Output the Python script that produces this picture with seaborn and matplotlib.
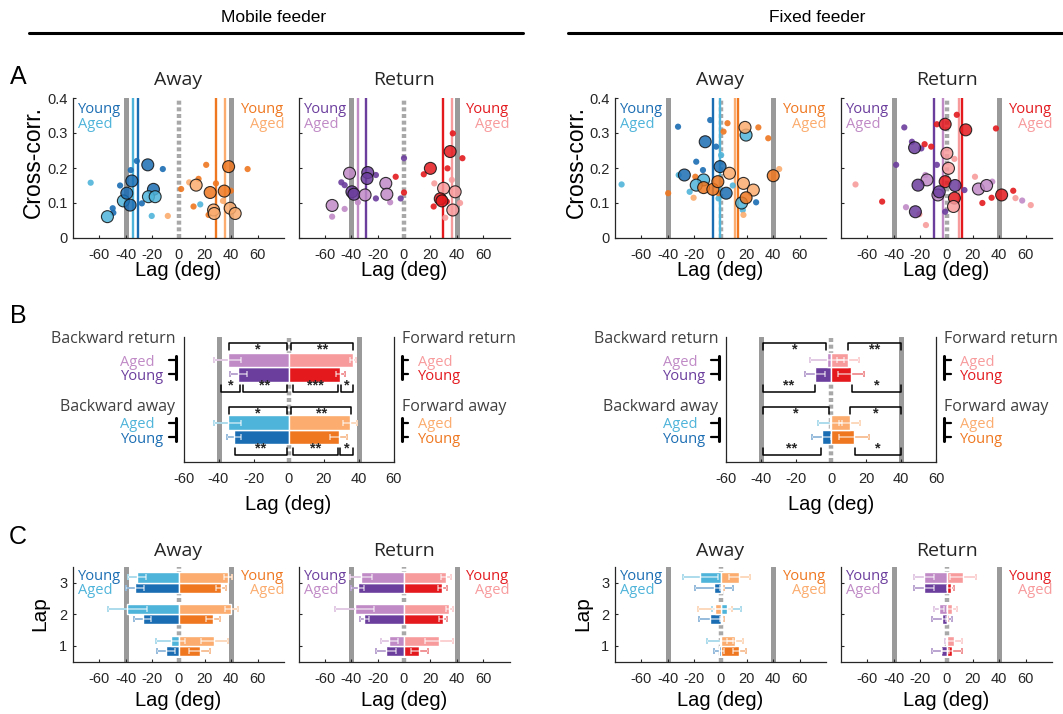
import pandas as pd
import seaborn as sns
import matplotlib.pyplot as plt
import matplotlib.transforms as mtransforms
from matplotlib.lines import Line2D

# ---- colours ----
BLUE_Y, BLUE_A = '#1b6db3', '#4fb4da'
ORANGE_Y, ORANGE_A = '#ef7720', '#fbac6e'
PURPLE_Y, PURPLE_A = '#6b3d9d', '#c08ac6'
RED_Y, RED_A = '#e3191e', '#f89b9d'
GREY = '#9a9a9a'
INK = '#262626'

AWAY_PAL = {'yb': BLUE_Y, 'ab': BLUE_A, 'yf': ORANGE_Y, 'af': ORANGE_A}
RET_PAL = {'yb': PURPLE_Y, 'ab': PURPLE_A, 'yf': RED_Y, 'af': RED_A}

# ---- A: cross-correlation peaks (lag deg, cross-corr, group, big marker) ----
MOB_AWAY_PTS = [(-66.6, 0.158, 'ab', 0), (-53.9, 0.061, 'ab', 1), (-49.9, 0.085, 'yb', 0), (-49.4, 0.072, 'yb', 0),
                (-44.3, 0.150, 'yb', 0), (-41.8, 0.106, 'ab', 1), (-39.2, 0.128, 'yb', 1), (-36.7, 0.094, 'yb', 1),
                (-36.2, 0.194, 'yb', 0), (-31.6, 0.220, 'yb', 0), (-35.4, 0.163, 'yb', 1), (-27.8, 0.099, 'yb', 0),
                (-23.3, 0.209, 'yb', 1), (-11.9, 0.197, 'yb', 0), (-19.0, 0.139, 'yb', 1), (-22.8, 0.118, 'ab', 1),
                (-17.7, 0.118, 'ab', 1), (-20.3, 0.063, 'ab', 0), (16.5, 0.096, 'ab', 0), (-8.1, 0.063, 'af', 0),
                (2.0, 0.140, 'yf', 0), (8.1, 0.159, 'af', 0), (13.4, 0.151, 'af', 1), (15.2, 0.169, 'yf', 0),
                (21.0, 0.209, 'yf', 0), (11.4, 0.090, 'yf', 0), (24.0, 0.130, 'yf', 1), (28.4, 0.156, 'yf', 0),
                (34.7, 0.134, 'yf', 1), (39.7, 0.135, 'yf', 0), (38.0, 0.204, 'yf', 1), (52.4, 0.197, 'yf', 0),
                (26.6, 0.080, 'af', 1), (27.1, 0.070, 'af', 1), (39.2, 0.085, 'af', 1), (43.0, 0.070, 'af', 1),
                (22.8, 0.066, 'yf', 0), (33.7, 0.106, 'af', 0)]
MOB_RET_PTS = [(-54.5, 0.093, 'ab', 1), (-54.5, 0.061, 'ab', 0), (-45.0, 0.083, 'ab', 0), (-47.5, 0.159, 'yb', 0),
               (-45.0, 0.151, 'yb', 0), (-41.3, 0.185, 'ab', 1), (-39.5, 0.132, 'yb', 1), (-38.0, 0.125, 'yb', 1),
               (-35.0, 0.102, 'ab', 0), (-27.5, 0.187, 'yb', 1), (-28.0, 0.170, 'yb', 1), (-21.3, 0.180, 'yb', 0),
               (-29.5, 0.123, 'ab', 1), (-21.3, 0.113, 'yb', 0), (-13.8, 0.156, 'ab', 1), (-13.0, 0.125, 'ab', 1),
               (-10.5, 0.102, 'ab', 0), (-2.5, 0.113, 'yb', 0), (0.0, 0.228, 'yb', 0), (-6.3, 0.175, 'yf', 0),
               (0.0, 0.130, 'yf', 0), (20.0, 0.199, 'yf', 1), (15.0, 0.182, 'yf', 0), (33.0, 0.199, 'yf', 0),
               (37.0, 0.299, 'yf', 0), (35.0, 0.247, 'yf', 1), (44.3, 0.228, 'yf', 0), (23.0, 0.156, 'af', 0),
               (30.0, 0.142, 'af', 1), (27.5, 0.112, 'yf', 1), (28.8, 0.106, 'yf', 1), (22.5, 0.090, 'yf', 0),
               (32.5, 0.104, 'yf', 0), (38.8, 0.132, 'af', 1), (37.0, 0.080, 'af', 1), (42.5, 0.100, 'af', 0),
               (31.3, 0.058, 'af', 0), (36.3, 0.166, 'af', 0)]
FIX_AWAY_PTS = [(-75.0, 0.153, 'ab', 0), (-32.2, 0.318, 'yb', 0), (-7.8, 0.337, 'yb', 0), (-11.6, 0.275, 'yb', 1),
                (-3.3, 0.261, 'yb', 0), (0.5, 0.237, 'ab', 0), (-18.4, 0.218, 'yb', 0), (-13.3, 0.194, 'yb', 0),
                (-31.7, 0.180, 'ab', 0), (-27.4, 0.180, 'yb', 1), (-12.8, 0.166, 'ab', 1), (-0.3, 0.204, 'yb', 1),
                (-18.4, 0.151, 'ab', 1), (-23.4, 0.132, 'ab', 0), (4.3, 0.128, 'yb', 1), (-1.5, 0.113, 'ab', 0),
                (16.0, 0.100, 'ab', 1), (16.9, 0.080, 'ab', 0), (27.0, 0.102, 'yb', 0), (9.3, 0.150, 'ab', 0),
                (19.4, 0.294, 'ab', 1), (-39.7, 0.128, 'yf', 0), (-19.1, 0.175, 'yf', 0), (-20.4, 0.115, 'af', 0),
                (-12.8, 0.144, 'yf', 1), (-5.8, 0.139, 'yf', 1), (-2.0, 0.161, 'yf', 1), (-1.5, 0.128, 'yf', 0),
                (2.3, 0.304, 'yf', 0), (5.3, 0.328, 'yf', 0), (6.8, 0.185, 'af', 1), (18.6, 0.316, 'af', 1),
                (28.7, 0.316, 'yf', 0), (36.2, 0.285, 'yf', 0), (40.0, 0.178, 'yf', 1), (44.5, 0.197, 'af', 0),
                (17.4, 0.156, 'af', 1), (24.9, 0.137, 'af', 1), (19.4, 0.115, 'yf', 1), (17.4, 0.066, 'af', 0)]
FIX_RET_PTS = [(-69.0, 0.153, 'af', 0), (-32.0, 0.316, 'yb', 0), (-38.2, 0.209, 'yb', 0), (-26.2, 0.275, 'yb', 0),
               (-24.2, 0.258, 'yb', 1), (-19.1, 0.256, 'yb', 0), (-16.6, 0.268, 'yf', 0), (-11.6, 0.261, 'yf', 0),
               (-7.3, 0.325, 'yf', 0), (7.8, 0.352, 'yf', 0), (-1.0, 0.325, 'yf', 1), (14.6, 0.309, 'yf', 1),
               (37.5, 0.313, 'yf', 0), (-16.0, 0.180, 'ab', 0), (-14.8, 0.166, 'ab', 1), (-21.6, 0.151, 'yb', 1),
               (-7.3, 0.209, 'yb', 0), (0.3, 0.242, 'af', 1), (6.0, 0.226, 'af', 0), (1.5, 0.199, 'af', 1),
               (-1.0, 0.161, 'yf', 1), (6.5, 0.150, 'yb', 1), (-6.5, 0.123, 'ab', 1), (-5.5, 0.132, 'yb', 1),
               (6.0, 0.114, 'yf', 1), (5.3, 0.090, 'af', 1), (-1.0, 0.075, 'yb', 0), (13.6, 0.137, 'yb', 0),
               (21.6, 0.175, 'af', 0), (24.2, 0.140, 'ab', 1), (30.4, 0.150, 'ab', 1), (34.7, 0.161, 'ab', 0),
               (41.8, 0.123, 'yf', 1), (50.6, 0.135, 'yf', 0), (34.2, 0.115, 'yf', 0), (27.2, 0.100, 'yf', 0),
               (52.3, 0.114, 'af', 0), (57.4, 0.107, 'ab', 0), (63.9, 0.094, 'af', 0), (-48.8, 0.104, 'yf', 0),
               (-30.7, 0.088, 'ab', 0), (-23.6, 0.075, 'yb', 1), (-20.6, 0.068, 'af', 0), (-15.6, 0.037, 'af', 0)]

# ---- B: mean lag per row (young away, aged away, young return, aged return) ----
B_ROWS = ['Young away', 'Aged away', 'Young return', 'Aged return']
MOB_B_BACK = [-30.9, -34.7, -28.6, -34.7]
MOB_B_BACK_ERR = [4.0, 7.6, 4.8, 7.8]
MOB_B_FWD = [28.6, 35.2, 29.5, 36.6]
MOB_B_FWD_ERR = [4.8, 3.8, 2.5, 1.7]
FIX_B_BACK = [-5.4, -0.5, -9.1, -2.5]
FIX_B_BACK_ERR = [5.6, 7.0, 5.8, 9.7]
FIX_B_FWD = [13.0, 10.7, 11.6, 9.7]
FIX_B_FWD_ERR = [8.5, 6.0, 7.5, 6.3]
# significance brackets: (from, to, level, stars)
MOB_SIG = [(-34, -1, 'rt', '*'), (1.5, 37, 'rt', '**'),
           (-38.5, -28, 'rb', '*'), (-26, -1, 'rb', '**'), (2.5, 28, 'rb', '***'), (30, 36.8, 'rb', '*'),
           (-34, -1, 'at', '*'), (1.5, 35.8, 'at', '**'),
           (-30.3, -1, 'ab', '**'), (2.5, 28, 'ab', '**'), (29.7, 36.8, 'ab', '*')]
FIX_SIG = [(-38.8, -2.9, 'rt', '*'), (9.7, 40, 'rt', '**'),
           (-38.8, -9.1, 'rb', '**'), (12.2, 40, 'rb', '*'),
           (-38.8, -1, 'at', '*'), (10.7, 40, 'at', '*'),
           (-38.8, -5.8, 'ab', '**'), (13.6, 40, 'ab', '*')]

# ---- C: lag per lap, series order young back, aged back, young fwd, aged fwd ----
LAPS = [1, 2, 3]
SERIES = ['young_back', 'aged_back', 'young_fwd', 'aged_fwd']
MOB_AWAY_LAP = [[-9.5, -27.1, -32.8], [-5.7, -38.7, -31.5], [16.0, 26.3, 32.3], [27.1, 40.0, 37.4]]
MOB_AWAY_LAP_ERR = [[6.5, 6.5, 6.7], [11.0, 14.5, 6.5], [8.0, 5.2, 4.0], [10.3, 5.0, 2.8]]
MOB_RET_LAP = [[-13.5, -30.0, -35.0], [-11.0, -37.5, -32.4], [11.7, 29.4, 28.9], [26.4, 34.5, 32.0]]
MOB_RET_LAP_ERR = [[7.8, 3.2, 5.0], [6.3, 14.5, 8.2], [6.3, 3.0, 3.4], [10.7, 2.8, 3.8]]
FIX_AWAY_LAP = [[-1.0, -8.0, -5.0], [-0.5, 4.7, -15.2], [14.4, 1.0, 0.9], [11.0, -4.2, 14.4]]
FIX_AWAY_LAP_ERR = [[4.0, 8.6, 14.7], [9.6, 11.0, 13.4], [5.0, 1.5, 1.5], [6.0, 13.0, 7.7]]
FIX_RET_LAP = [[-4.4, -3.2, -17.1], [-0.5, -5.7, -17.1], [4.4, 0.5, 3.2], [5.7, 3.9, 12.8]]
FIX_RET_LAP_ERR = [[6.3, 7.6, 7.6], [1.0, 3.8, 7.9], [7.6, 1.0, 2.8], [5.7, 3.8, 9.9]]

LAG_TICKS = [-60, -40, -20, 0, 20, 40, 60]

# ---- layout (pixels) ----
W, H = 1063, 714
COLS = {'mob_away': (73, 284), 'mob_ret': (298.5, 509.5), 'fix_away': (615, 826), 'fix_ret': (841, 1052)}
A_Y = (98, 238)
C_Y = (566.7, 661.8)
B_X = {'mob': (183.5, 393.5), 'fix': (726, 936)}
B_Y = (337, 462)
B_POS = [0, 1, 4.33, 5.33]

SANS = ['Liberation Sans', 'DejaVu Sans']
SOFT = ['Open Sans', 'DejaVu Sans']

sns.set_style('ticks')
plt.rcParams.update({
    'font.family': SANS,
    'axes.unicode_minus': False,
    'xtick.direction': 'in', 'ytick.direction': 'in',
    'xtick.major.size': 2.5, 'ytick.major.size': 2.5,
    'xtick.major.width': 0.8, 'ytick.major.width': 0.8,
    'xtick.major.pad': 7, 'ytick.major.pad': 4,
    'axes.linewidth': 0.9, 'axes.edgecolor': INK,
    'xtick.color': INK, 'ytick.color': INK,
    'xtick.labelcolor': INK, 'ytick.labelcolor': INK,
    'xtick.labelsize': 10.5, 'ytick.labelsize': 10.5,
})

fig = plt.figure(figsize=(W / 100, H / 100), dpi=100)


def add_ax(x, y):
    return fig.add_axes([x[0] / W, 1 - y[1] / H, (x[1] - x[0]) / W, (y[1] - y[0]) / H])


def fig_text(x, y, s, **kw):
    fig.text(x / W, 1 - y / H, s, **kw)


def guides(ax):
    for v in (-40, 40):
        ax.axvline(v, color=GREY, lw=3.6, zorder=0.5)
    ax.axvline(0, color='#a8a8a8', lw=3.2, ls=(0, (0.9, 0.6)), zorder=0.6)


def young_aged(ax, cols_left, cols_right, ys):
    for x, ha, cols in ((0.025, 'left', cols_left), (1.0, 'right', cols_right)):
        ax.text(x, ys[0], 'Young', color=cols[0], ha=ha, va='center', transform=ax.transAxes,
                fontsize=10.5, family=SOFT)
        ax.text(x, ys[1], 'Aged', color=cols[1], ha=ha, va='center', transform=ax.transAxes,
                fontsize=10.5, family=SOFT)


def xcorr_panel(ax, pts, pal, means, ylabels):
    df = pd.DataFrame(pts, columns=['lag', 'cc', 'grp', 'big'])
    guides(ax)
    for m, key in zip(means, ['ab', 'yb', 'af', 'yf']):
        ax.axvline(m, color=pal[key], lw=1.7, zorder=1)
    sns.scatterplot(data=df[df.big == 0], x='lag', y='cc', hue='grp', palette=pal, s=20,
                    edgecolor='none', alpha=0.9, legend=False, ax=ax, zorder=3)
    sns.scatterplot(data=df[df.big == 1], x='lag', y='cc', hue='grp', palette=pal, s=74,
                    edgecolor='#111111', linewidth=0.8, alpha=0.85, legend=False, ax=ax, zorder=4)
    ax.set_xlim(-80, 80)
    ax.set_ylim(0, 0.4)
    ax.set_xticks(LAG_TICKS)
    ax.set_yticks([0, 0.1, 0.2, 0.3, 0.4])
    ax.set_yticklabels(['0', '0.1', '0.2', '0.3', '0.4'] if ylabels else [])
    ax.set_xlabel('')
    ax.set_ylabel('')
    sns.despine(ax=ax)
    young_aged(ax, (pal['yb'], pal['ab']), (pal['yf'], pal['af']), (0.92, 0.81))


def err_bars(ax, vals, pos, errs, cols):
    for v, p, e, c in zip(vals, pos, errs, cols):
        ax.errorbar(v, p, xerr=e, fmt='none', ecolor=c, elinewidth=1.3, capsize=2.5, capthick=1.3, zorder=1.8)
        ax.errorbar(v, p, xerr=e, fmt='none', ecolor='white', alpha=0.55, elinewidth=1.3, capsize=2.5,
                    capthick=1.3, zorder=3)


def hbars(ax, vals, pos, names, cols):
    df = pd.DataFrame({'lag': vals, 'pos': pos, 'row': names})
    sns.barplot(data=df, x='lag', y='pos', hue='row', palette=dict(zip(names, cols)), orient='y',
                native_scale=True, width=1, dodge=False, errorbar=None, saturation=1, legend=False,
                ax=ax, zorder=2)


LEVELS = {'rt': (6.48, -1), 'rb': (3.14, 1), 'at': (2.07, -1), 'ab': (-1.22, 1)}


def summary_panel(ax, xpx, back, back_err, fwd, fwd_err, sig):
    guides(ax)
    back_cols = [BLUE_Y, BLUE_A, PURPLE_Y, PURPLE_A]
    fwd_cols = [ORANGE_Y, ORANGE_A, RED_Y, RED_A]
    hbars(ax, back, B_POS, B_ROWS, back_cols)
    hbars(ax, fwd, B_POS, B_ROWS, fwd_cols)
    err_bars(ax, back, B_POS, back_err, back_cols)
    err_bars(ax, fwd, B_POS, fwd_err, fwd_cols)
    for x0, x1, lev, stars in sig:
        y, d = LEVELS[lev]
        ax.plot([x0, x0, x1, x1], [y + d * 0.45, y, y, y + d * 0.45], color='k', lw=1.1, zorder=4)
        ax.text((x0 + x1) / 2, y + d * 0.42, stars, ha='center', va='center', fontsize=10.5,
                fontweight='bold', zorder=5)
    ax.set_xlim(-60, 60)
    ax.set_ylim(-1.72, 6.92)
    ax.set_xticks(LAG_TICKS)
    ax.set_yticks([])
    ax.set_xlabel('')
    ax.set_ylabel('')
    ax.spines['top'].set_visible(False)

    tr = mtransforms.blended_transform_factory(fig.transFigure, ax.transData)
    x0, x1 = xpx
    groups = [('return', 6.78, B_POS[3], B_POS[2], PURPLE_A, PURPLE_Y, RED_A, RED_Y),
              ('away', 2.11, B_POS[1], B_POS[0], BLUE_A, BLUE_Y, ORANGE_A, ORANGE_Y)]
    for name, ty, ya, yy, ba, by, fa, fy in groups:
        ax.text((x0 - 8) / W, ty, f'Backward {name}', transform=tr, ha='right', va='center',
                fontsize=11.5, color='#404040', family=SOFT)
        ax.text((x1 + 8) / W, ty, f'Forward {name}', transform=tr, ha='left', va='center',
                fontsize=11.5, color='#404040', family=SOFT)
        for xs, ca, cy in (((x0 - 63) / W, ba, by), ((x1 + 24) / W, fa, fy)):
            ax.text(xs, ya - 0.15, 'Aged', color=ca, transform=tr, ha='left', va='center',
                    fontsize=10.5, family=SOFT)
            ax.text(xs, yy - 0.15, 'Young', color=cy, transform=tr, ha='left', va='center',
                    fontsize=10.5, family=SOFT)
        for xv, xt in ((x0 - 7.5, x0 - 15), (x1 + 8, x1 + 14.5)):
            ax.plot([xv / W, xv / W], [ya + 0.3, yy - 0.3], color='k', lw=2.2, transform=tr, clip_on=False)
            for yr in (ya, yy):
                ax.plot([xv / W, xt / W], [yr, yr], color='k', lw=1.6, transform=tr, clip_on=False)


def lap_panel(ax, lags, errs, pal, ylabels):
    guides(ax)
    cols = [pal['yb'], pal['ab'], pal['yf'], pal['af']]
    for side in (0, 2):
        pos, vals, names, cs, es = [], [], [], [], []
        for k, off in ((side, -0.16), (side + 1, 0.16)):
            for lap, v, e in zip(LAPS, lags[k], errs[k]):
                pos.append(lap + off)
                vals.append(v)
                names.append(f'{SERIES[k]}_{lap}')
                cs.append(cols[k])
                es.append(e)
        hbars(ax, vals, pos, names, cs)
        err_bars(ax, vals, pos, es, cs)
    ax.set_xlim(-80, 80)
    ax.set_ylim(0.5, 3.5)
    ax.set_xticks(LAG_TICKS)
    ax.set_yticks(LAPS)
    ax.set_yticklabels([str(l) for l in LAPS] if ylabels else [])
    ax.set_xlabel('')
    ax.set_ylabel('')
    sns.despine(ax=ax)
    young_aged(ax, (pal['yb'], pal['ab']), (pal['yf'], pal['af']), (0.895, 0.745))


# ---- panel A ----
for key, pts, pal, b_back, b_fwd, idx, ylab in [
        ('mob_away', MOB_AWAY_PTS, AWAY_PAL, MOB_B_BACK, MOB_B_FWD, (1, 0), True),
        ('mob_ret', MOB_RET_PTS, RET_PAL, MOB_B_BACK, MOB_B_FWD, (3, 2), False),
        ('fix_away', FIX_AWAY_PTS, AWAY_PAL, FIX_B_BACK, FIX_B_FWD, (1, 0), True),
        ('fix_ret', FIX_RET_PTS, RET_PAL, FIX_B_BACK, FIX_B_FWD, (3, 2), False)]:
    ax = add_ax(COLS[key], A_Y)
    means = [b_back[idx[0]], b_back[idx[1]], b_fwd[idx[0]], b_fwd[idx[1]]]
    xcorr_panel(ax, pts, pal, means, ylab)
    cx = sum(COLS[key]) / 2
    fig_text(cx, 80, 'Away' if 'away' in key else 'Return', ha='center', va='center',
             fontsize=14, color=INK, family=SOFT)
    fig_text(cx, 271, 'Lag (deg)', ha='center', va='center', fontsize=14.5, color='k')

# ---- panel B ----
for key, back, back_err, fwd, fwd_err, sig in [
        ('mob', MOB_B_BACK, MOB_B_BACK_ERR, MOB_B_FWD, MOB_B_FWD_ERR, MOB_SIG),
        ('fix', FIX_B_BACK, FIX_B_BACK_ERR, FIX_B_FWD, FIX_B_FWD_ERR, FIX_SIG)]:
    ax = add_ax(B_X[key], B_Y)
    summary_panel(ax, B_X[key], back, back_err, fwd, fwd_err, sig)
    fig_text(sum(B_X[key]) / 2, 505, 'Lag (deg)', ha='center', va='center', fontsize=14.5, color='k')

# ---- panel C ----
for key, lags, errs, pal, ylab in [
        ('mob_away', MOB_AWAY_LAP, MOB_AWAY_LAP_ERR, AWAY_PAL, True),
        ('mob_ret', MOB_RET_LAP, MOB_RET_LAP_ERR, RET_PAL, False),
        ('fix_away', FIX_AWAY_LAP, FIX_AWAY_LAP_ERR, AWAY_PAL, True),
        ('fix_ret', FIX_RET_LAP, FIX_RET_LAP_ERR, RET_PAL, False)]:
    ax = add_ax(COLS[key], C_Y)
    lap_panel(ax, lags, errs, pal, ylab)
    cx = sum(COLS[key]) / 2
    fig_text(cx, 551, 'Away' if 'away' in key else 'Return', ha='center', va='center',
             fontsize=14, color=INK, family=SOFT)
    fig_text(cx, 701, 'Lag (deg)', ha='center', va='center', fontsize=14.5, color='k')

# ---- shared labels ----
for x in (33, 576):
    fig_text(x, 162, 'Cross-corr.', rotation=90, ha='center', va='center', fontsize=16.5, color='k')
for x in (40, 583):
    fig_text(x, 614, 'Lap', rotation=90, ha='center', va='center', fontsize=15, color='k')
for s, y in (('A', 77), ('B', 316), ('C', 537)):
    fig_text(18, y, s, ha='center', va='center', fontsize=18, color='k')

NARROW = ['Liberation Sans Narrow', 'Liberation Sans', 'DejaVu Sans']
for s, cx, x0, x1 in (('Mobile feeder', 274, 29, 523), ('Fixed feeder', 817, 568, 1062)):
    fig_text(cx, 18, s, ha='center', va='center', fontsize=12.5, color='k', family=NARROW)
    fig.add_artist(Line2D([x0 / W, x1 / W], [1 - 33 / H, 1 - 33 / H], color='k', lw=2.2))

fig.savefig('out.png', dpi=100)
